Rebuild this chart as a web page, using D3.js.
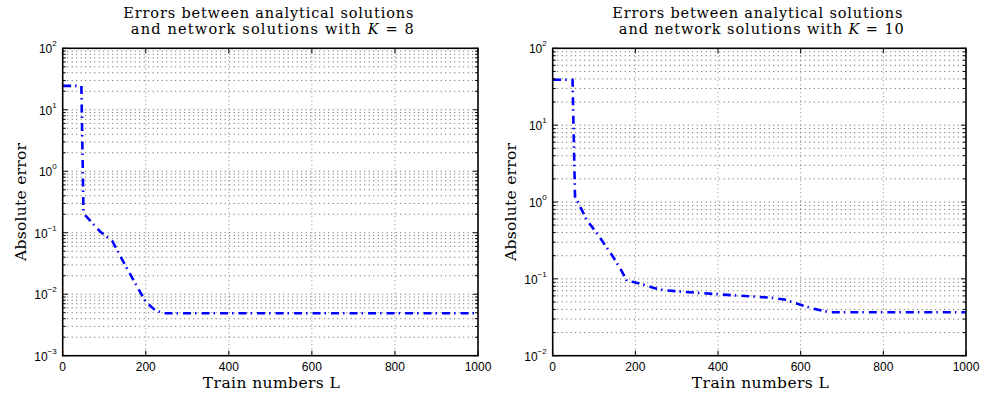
<!DOCTYPE html>
<html><head><meta charset="utf-8">
<script src="https://cdn.jsdelivr.net/npm/d3@7"></script>
<style>
body{margin:0;background:#fff;}
svg{display:block;}
</style></head>
<body>
<svg id="chart" width="989" height="398"></svg>
<script>
// ---- data ----
const trainK8 = [1, 45, 50, 55, 90, 120, 150, 180, 200, 220, 240, 1000];
const errK8   = [24.5, 24.5, 0.22, 0.19, 0.105, 0.072, 0.03, 0.013, 0.0075, 0.0057, 0.0049, 0.0049];

const trainK10 = [1, 48, 54, 62, 82, 115, 147, 167, 180, 195, 220, 245, 270, 330, 410, 525, 560, 605, 630, 670, 1000];
const errK10   = [39, 39, 1.18, 0.97, 0.59, 0.34, 0.19, 0.126, 0.093, 0.091, 0.084, 0.076, 0.071, 0.067, 0.0625, 0.057, 0.054, 0.045, 0.041, 0.0368, 0.0368];

const xTicks = [0, 200, 400, 600, 800, 1000];
const yExpK8 = [-3, -2, -1, 0, 1, 2];
const yExpK10 = [-2, -1, 0, 1, 2];
const titleLine1 = "Errors between analytical solutions";
const titleLine2K8 = ["and network solutions with ", "K", " = 8"];
const titleLine2K10 = ["and network solutions with ", "K", " = 10"];
const xLabel = "Train numbers L";
const yLabel = "Absolute error";

const svg = d3.select("#chart");
const serif = "'DejaVu Serif', serif";
const sans = "'Liberation Sans', Arial, sans-serif";

function panel(cfg){
  const {left, right, top, bottom, xs, ys, yExp, t2, t2len} = cfg;
  const g = svg.append("g");
  const x = d3.scaleLinear().domain([0, 1000]).range([left, right]);
  const y = d3.scaleLog().domain([Math.pow(10, yExp[0]), Math.pow(10, yExp[yExp.length-1])]).range([bottom, top]);

  // minor + major y grid
  const yGrid = [];
  for (let e = yExp[0]; e < yExp[yExp.length-1]; e++) {
    for (let m = 1; m <= 9; m++) yGrid.push(m * Math.pow(10, e));
  }
  yGrid.push(Math.pow(10, yExp[yExp.length-1]));
  g.append("g").selectAll("line").data(yGrid.filter((v,i)=>i>0 && i<yGrid.length-1)).join("line")
    .attr("x1", left).attr("x2", right)
    .attr("y1", d=>y(d)).attr("y2", d=>y(d))
    .attr("stroke", "#333").attr("stroke-width", 0.8).attr("stroke-dasharray", "1,3.5");
  g.append("g").selectAll("line").data(xTicks.slice(1, -1)).join("line")
    .attr("x1", d=>x(d)).attr("x2", d=>x(d))
    .attr("y1", top).attr("y2", bottom)
    .attr("stroke", "#666").attr("stroke-width", 0.8).attr("stroke-dasharray", "1,3");

  // data line
  const line = d3.line().x(d=>x(d[0])).y(d=>y(d[1]));
  g.append("path").datum(xs.map((v,i)=>[v, ys[i]]))
    .attr("d", line).attr("fill", "none").attr("stroke", "#0000ff")
    .attr("stroke-width", 2.6).attr("stroke-dasharray", "8,4,1.5,5");

  // ticks (inward)
  const tk = g.append("g").attr("stroke", "#000").attr("stroke-width", 1);
  xTicks.forEach(v=>{
    tk.append("line").attr("x1", x(v)).attr("x2", x(v)).attr("y1", bottom).attr("y2", bottom-5);
    tk.append("line").attr("x1", x(v)).attr("x2", x(v)).attr("y1", top).attr("y2", top+5);
  });
  yGrid.forEach(v=>{
    const major = Math.abs(Math.log10(v) - Math.round(Math.log10(v))) < 1e-9;
    const len = major ? 5 : 3;
    tk.append("line").attr("x1", left).attr("x2", left+len).attr("y1", y(v)).attr("y2", y(v));
    tk.append("line").attr("x1", right).attr("x2", right-len).attr("y1", y(v)).attr("y2", y(v));
  });

  // box
  g.append("rect").attr("x", left).attr("y", top).attr("width", right-left).attr("height", bottom-top)
    .attr("fill", "none").attr("stroke", "#000").attr("stroke-width", 1.6);

  // x tick labels
  g.append("g").selectAll("text").data(xTicks).join("text")
    .attr("x", d=>x(d)).attr("y", bottom + 15)
    .attr("text-anchor", "middle").attr("font-family", sans).attr("font-size", 12)
    .text(d=>d);
  // y tick labels
  const yl = g.append("g").selectAll("text").data(yExp).join("text")
    .attr("x", left - 6).attr("y", d=>y(Math.pow(10,d)) + 5)
    .attr("text-anchor", "end").attr("font-family", sans).attr("font-size", 12);
  yl.append("tspan").text("10");
  yl.append("tspan").attr("dy", -7).attr("font-size", 8).text(d=>String(d).replace("-", "\u2212"));

  // titles
  const cx = (left + right) / 2;
  g.append("text").attr("x", cx - 2).attr("y", 18).attr("text-anchor", "middle")
    .attr("font-family", serif).attr("font-size", 14.5)
    .attr("textLength", 290).attr("lengthAdjust", "spacing").text(titleLine1);
  const t = g.append("text").attr("x", cx + 2).attr("y", 34).attr("text-anchor", "middle")
    .attr("font-family", serif).attr("font-size", 14.5)
    .attr("textLength", t2len).attr("lengthAdjust", "spacing");
  t.append("tspan").text(t2[0]);
  t.append("tspan").attr("font-style", "italic").text(t2[1]);
  t.append("tspan").text(t2[2]);

  // axis labels
  g.append("text").attr("x", cx + 1).attr("y", bottom + 32).attr("text-anchor", "middle")
    .attr("font-family", serif).attr("font-size", 15.5)
    .attr("textLength", 137).attr("lengthAdjust", "spacing").text(xLabel);
  g.append("text").attr("transform", `translate(${left - 37},${(top+bottom)/2}) rotate(-90)`)
    .attr("text-anchor", "middle").attr("font-family", serif).attr("font-size", 15.5)
    .attr("textLength", 118).attr("lengthAdjust", "spacing").text(yLabel);
}

panel({left: 62.7, right: 478, top: 48.3, bottom: 355.7, xs: trainK8, ys: errK8, yExp: yExpK8, t2: titleLine2K8, t2len: 283});
panel({left: 552.7, right: 966, top: 48.3, bottom: 355.7, xs: trainK10, ys: errK10, yExp: yExpK10, t2: titleLine2K10, t2len: 285});
</script>
</body></html>
